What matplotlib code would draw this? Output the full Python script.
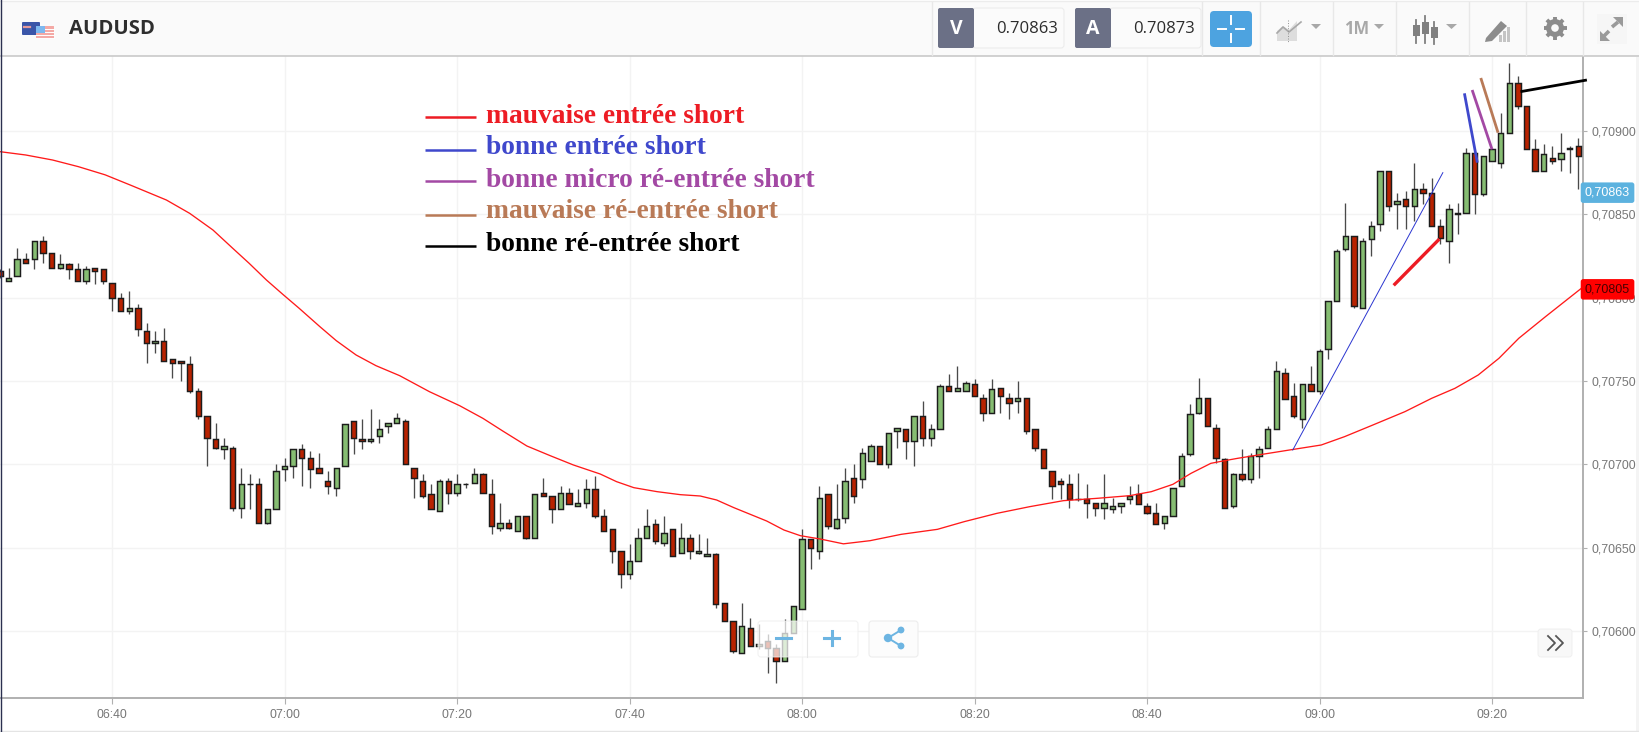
# -*- coding: utf-8 -*-
import matplotlib
matplotlib.use('Agg')
import matplotlib.pyplot as plt
from matplotlib.patches import Rectangle, FancyBboxPatch, Polygon, Circle
from matplotlib.transforms import blended_transform_factory

############################################################################
#                    Chart values                                          #
############################################################################
#Prices are in points above 0.70000, one candle per minute starting at 06:27
Start_Minute = 387

Opens = [
    816, 810, 813, 823, 823, 834, 827, 818, 820, 817,
    810, 818, 817, 809, 800, 792, 794, 780, 773, 774,
    763, 762, 760, 744, 729, 715, 709, 710, 674, 688,
    688, 665, 673, 697, 699, 709, 704, 698, 690, 686,
    699, 726, 715, 714, 717, 723, 725, 726, 698, 690,
    682, 672, 690, 683, 688, 689, 694, 682, 662, 665,
    660, 669, 656, 683, 681, 673, 683, 675, 677, 685,
    669, 661, 648, 634, 642, 656, 664, 653, 661, 647,
    656, 647, 645, 646, 617, 606, 587, 602, 591, 594,
    590, 582, 599, 613, 655, 648, 682, 662, 668, 692,
    691, 702, 711, 700, 720, 721, 714, 729, 716, 721,
    747, 744, 744, 748, 740, 731, 746, 740, 738, 740,
    721, 709, 696, 690, 688, 679, 679, 677, 674, 673,
    675, 679, 682, 675, 671, 665, 669, 687, 706, 731,
    740, 722, 703, 675, 694, 691, 705, 710, 721, 755,
    741, 727, 748, 744, 769, 798, 829, 837, 794, 835,
    844, 876, 856, 859, 855, 865, 863, 843, 834, 850,
    851, 887, 862, 882, 881, 899, 929, 915, 889, 876,
    884, 883, 889, 891]
Highs = [
    817, 818, 830, 827, 834, 837, 827, 826, 821, 821,
    819, 818, 817, 809, 803, 804, 796, 785, 780, 782,
    763, 762, 765, 746, 729, 725, 716, 711, 698, 694,
    692, 673, 700, 704, 709, 712, 708, 707, 696, 698,
    724, 726, 727, 733, 727, 725, 731, 727, 698, 694,
    688, 691, 692, 694, 689, 698, 695, 691, 677, 667,
    669, 669, 682, 692, 681, 687, 686, 685, 691, 693,
    673, 661, 648, 652, 662, 673, 667, 669, 661, 665,
    658, 658, 656, 647, 617, 606, 617, 608, 604, 598,
    592, 607, 615, 661, 655, 687, 682, 688, 698, 700,
    710, 712, 711, 719, 722, 721, 729, 738, 724, 748,
    754, 759, 750, 751, 742, 751, 746, 743, 750, 740,
    721, 709, 696, 692, 694, 695, 688, 677, 694, 680,
    677, 687, 688, 677, 677, 669, 686, 707, 736, 752,
    740, 724, 704, 695, 709, 707, 711, 723, 762, 758,
    749, 748, 759, 769, 798, 829, 857, 837, 836, 846,
    876, 876, 863, 864, 881, 869, 872, 847, 856, 857,
    890, 887, 885, 889, 911, 941, 933, 915, 895, 892,
    891, 899, 891, 896]
Lows = [
    812, 810, 813, 821, 817, 821, 818, 817, 811, 810,
    808, 808, 808, 792, 792, 790, 777, 761, 767, 762,
    752, 750, 743, 727, 699, 709, 703, 672, 668, 673,
    665, 664, 673, 690, 692, 687, 686, 695, 682, 681,
    699, 706, 709, 713, 713, 719, 725, 700, 680, 680,
    673, 672, 676, 681, 686, 689, 683, 658, 660, 661,
    660, 655, 656, 681, 665, 673, 676, 675, 674, 668,
    660, 641, 626, 631, 642, 656, 652, 651, 645, 647,
    643, 646, 645, 614, 606, 587, 587, 591, 589, 575,
    569, 582, 599, 613, 637, 643, 661, 661, 665, 677,
    686, 702, 700, 698, 710, 703, 699, 711, 711, 721,
    744, 744, 744, 741, 726, 731, 731, 727, 731, 718,
    708, 698, 679, 679, 674, 678, 668, 669, 667, 671,
    671, 676, 676, 670, 664, 661, 669, 687, 705, 730,
    723, 701, 674, 674, 690, 689, 692, 710, 721, 739,
    728, 722, 744, 742, 763, 798, 828, 794, 794, 825,
    840, 852, 841, 841, 846, 856, 843, 832, 821, 838,
    851, 850, 861, 882, 878, 899, 913, 889, 876, 876,
    880, 876, 875, 865]
Closes = [
    813, 812, 823, 821, 834, 827, 818, 820, 817, 810,
    817, 816, 810, 800, 792, 794, 781, 773, 774, 762,
    761, 761, 744, 729, 716, 710, 711, 674, 688, 688,
    665, 673, 696, 699, 709, 704, 697, 695, 687, 698,
    724, 716, 714, 715, 721, 725, 728, 700, 692, 681,
    673, 690, 683, 688, 688, 694, 683, 663, 665, 662,
    669, 656, 682, 681, 673, 683, 676, 677, 685, 669,
    660, 648, 634, 642, 656, 663, 654, 659, 645, 656,
    648, 648, 646, 616, 606, 588, 603, 591, 592, 590,
    582, 599, 615, 655, 650, 680, 663, 667, 690, 681,
    707, 711, 700, 719, 722, 714, 729, 716, 721, 747,
    744, 746, 749, 741, 731, 745, 741, 737, 740, 720,
    710, 698, 687, 688, 679, 679, 677, 674, 677, 675,
    677, 681, 676, 671, 664, 669, 686, 705, 730, 740,
    723, 704, 674, 694, 691, 705, 709, 721, 756, 739,
    729, 748, 744, 768, 798, 828, 837, 795, 834, 843,
    876, 855, 858, 855, 865, 863, 843, 836, 853, 851,
    887, 862, 885, 889, 899, 929, 915, 889, 876, 886,
    882, 887, 890, 885]

#Moving average, read at (candle number, price)
MA_Candle = [0, 3, 6.1, 9.1, 12.2, 15.2, 19.3, 22, 24.7, 27, 28.9, 30.9, 32.8, 34.7, 37.1, 39, 41.3,
             43.6, 46.35, 49.8, 53.3, 56, 58.3, 61.1, 63.8, 66.5, 69.6, 71.5, 73.5, 76.2,
             78.9, 81.2, 83.1, 85.1, 88.9, 90.9, 92.8, 95.1, 97.8, 100.9, 104.5, 108.7,
             111.8, 115.6, 119.4, 123.3, 127.2, 131, 133.5, 136, 138.1, 140.4, 142, 143.5,
             146.6, 150, 153.2, 155.9, 159, 162.9, 166, 168.7, 171.4, 173.8, 176.1, 179.2,
             183.7]
MA_Price = [887.6, 885.6, 882.6, 878.6, 873.7, 867.4, 858.6, 850.6, 840.6, 829.6, 820.6, 810.6,
            802.0, 793.6, 782.6, 774.2, 765.6, 759.2, 753.2, 743.6, 735.2, 727.6, 720.0, 711.0,
            705.2, 699.6, 694.2, 689.6, 686.0, 683.6, 681.8, 681.0, 678.6, 674.0, 666.0, 660.6,
            657.2, 655.2, 652.3, 654.2, 658.0, 661.0, 665.6, 670.6, 674.6, 678.2, 679.6, 681.2,
            683.6, 688.0, 694.6, 700.6, 702.2, 703.6, 706.2, 709.0, 711.6, 716.6, 723.2, 731.6,
            739.6, 745.6, 753.6, 763.6, 775.6, 788.6, 807.0]

Y_Ticks = [600, 650, 700, 750, 800, 850, 900]
Y_Labels = ['0,70600', '0,70650', '0,70700', '0,70750', '0,70800', '0,70850', '0,70900']
X_Ticks = [400, 420, 440, 460, 480, 500, 520, 540, 560]
X_Labels = ['06:40', '07:00', '07:20', '07:40', '08:00', '08:20', '08:40', '09:00', '09:20']

#Hand drawn segments (minute, minute), (price, price)
Trend_Thin = ((536.9, 554.3), (708.6, 875.0))
Mark_Red = ((548.6, 553.9), (807.4, 835.2))
Mark_Blue = ((556.8, 558.3), (922.6, 881.0))
Mark_Purple = ((557.7, 560.0), (924.6, 889.0))
Mark_Brown = ((558.7, 560.7), (931.8, 899.0))
Mark_Black = ((563.3, 571.0), (923.6, 930.6))

Bid_Value = 863
Bid_Label = '0,70863'
MA_Last_Value = 805
MA_Last_Label = '0,70805'

Legend_Labels = ['mauvaise entrée short', 'bonne entrée short', 'bonne micro ré-entrée short',
                 'mauvaise ré-entrée short', 'bonne ré-entrée short']
Legend_Colors = ['#ed1c24', '#3f48cc', '#a349a4', '#b97a57', '#000000']
############################################################################

Up_Color = '#86bd72'
Down_Color = '#b82200'
Edge_Color = '#1c1c1c'
Grid_Color = '#f3f3f3'
Axis_Color = '#b0b0b0'
Text_Color = '#777777'

fig = plt.figure(figsize=(16.39, 7.32), dpi=100, facecolor='white')

#Main price axes, sized in pixels of the screenshot
ax = fig.add_axes([0, (732 - 698) / 732, 1583 / 1639, (698 - 56) / 732])
ax.set_xlim(387.01, 570.55)
ax.set_ylim(559.8, 945)
ax.set_facecolor('white')

minutes = [Start_Minute + i for i in range(len(Opens))]
ups = [c >= o for o, c in zip(Opens, Closes)]

ax.vlines(minutes, Lows, Highs, color='#4a4a4a', linewidth=0.95, zorder=2)
ax.bar(minutes,
       [abs(c - o) for o, c in zip(Opens, Closes)],
       bottom=[min(o, c) for o, c in zip(Opens, Closes)],
       width=0.62,
       color=[Up_Color if u else Down_Color for u in ups],
       edgecolor=Edge_Color, linewidth=1.05, zorder=3)

ma_minutes = [Start_Minute + c for c in MA_Candle]
ax.plot(ma_minutes, MA_Price, color='#ff1a1a', linewidth=0.95, zorder=4)

ax.plot(*Trend_Thin, color='#2a35d0', linewidth=0.7, zorder=5)
ax.plot(*Mark_Red, color=Legend_Colors[0], linewidth=2.4, zorder=5, solid_capstyle='butt')
ax.plot(*Mark_Blue, color=Legend_Colors[1], linewidth=2.0, zorder=5, solid_capstyle='butt')
ax.plot(*Mark_Purple, color=Legend_Colors[2], linewidth=2.0, zorder=5, solid_capstyle='butt')
ax.plot(*Mark_Brown, color=Legend_Colors[3], linewidth=2.0, zorder=5, solid_capstyle='butt')
ax.plot(*Mark_Black, color=Legend_Colors[4], linewidth=2.0, zorder=5, solid_capstyle='butt',
        clip_on=False)

ax.set_xticks(X_Ticks)
ax.set_xticklabels(X_Labels)
ax.set_yticks(Y_Ticks)
ax.set_yticklabels(Y_Labels)
ax.yaxis.tick_right()
ax.grid(True, color=Grid_Color, linewidth=1.0)
ax.set_axisbelow(True)
for label in ax.get_xticklabels() + ax.get_yticklabels():
    label.set_fontfamily('Liberation Sans')
    label.set_fontsize(8.9)
    label.set_color(Text_Color)
for label in ax.get_yticklabels():
    label.set_verticalalignment('center_baseline')
ax.tick_params(axis='x', length=4, width=0.8, color=Axis_Color, pad=4)
ax.tick_params(axis='y', length=3, width=0.8, color=Axis_Color, pad=3)
for side in ['top', 'left']:
    ax.spines[side].set_visible(False)
for side in ['right', 'bottom']:
    ax.spines[side].set_color(Axis_Color)
    ax.spines[side].set_linewidth(1.4)

#Last value tags sit on the right axis
tag_transform = blended_transform_factory(ax.transAxes, ax.transData)
ax.text(1.0155, Bid_Value, Bid_Label, transform=tag_transform, ha='center', va='center', clip_on=False,
        family='Liberation Sans', fontsize=9.0, color='white', zorder=6,
        bbox=dict(boxstyle='round,pad=0.34,rounding_size=0.2', facecolor='#5cb2df', edgecolor='none'))
ax.text(1.0155, MA_Last_Value, MA_Last_Label, transform=tag_transform, ha='center', va='center', clip_on=False,
        family='Liberation Sans', fontsize=9.0, color='#4a0000', zorder=6,
        bbox=dict(boxstyle='round,pad=0.34,rounding_size=0.2', facecolor='#ff0000', edgecolor='none'))

#Everything below is page furniture, drawn in screenshot pixels
ui = fig.add_axes([0, 0, 1, 1], facecolor='none', zorder=10)
ui.set_xlim(0, 1639)
ui.set_ylim(732, 0)
ui.axis('off')


def box(x0, y0, x1, y1, color, edge='none', lw=0.0, alpha=None, radius=0.0, z=1):
    if radius > 0:
        patch = FancyBboxPatch((x0 + radius, y0 + radius), x1 - x0 - 2 * radius, y1 - y0 - 2 * radius,
                               boxstyle='round,pad=%f,rounding_size=%f' % (radius, radius),
                               facecolor=color, edgecolor=edge, linewidth=lw, alpha=alpha, zorder=z)
    else:
        patch = Rectangle((x0, y0), x1 - x0, y1 - y0, facecolor=color, edgecolor=edge,
                          linewidth=lw, alpha=alpha, zorder=z)
    ui.add_patch(patch)


#Header bar
box(0, 2, 1639, 56, '#fafafa')
ui.plot([0, 1639], [56, 56], color='#c9c9c9', linewidth=1.2)
ui.plot([0, 1639], [1, 1], color='#ececec', linewidth=1.0)
ui.plot([0.7, 0.7], [0, 732], color='#2b3050', linewidth=1.0, zorder=8)
box(1636, 57, 1639, 732, '#f4f4f4', z=0)
ui.plot([0, 1639], [731, 731], color='#e4e4e4', linewidth=1.0)

#Flags
box(22, 22, 40, 35, '#3a55a8', radius=1)
ui.plot([24, 30], [27, 27], color='#e59a9a', linewidth=1.6, zorder=2)
box(36, 26, 54, 39, '#f4a9a5', radius=0.5, z=2)
for stripe_y in [29, 32, 35, 38]:
    ui.plot([36, 54], [stripe_y, stripe_y], color='white', linewidth=0.7, zorder=3)
box(36, 26, 45, 33, '#7db8ef', z=4)
ui.text(69, 29, 'AUDUSD', family='Open Sans', fontweight='bold', fontsize=14.6, color='#2e2e2e',
        ha='left', va='center')

#Header right hand buttons
for sep_x in [932, 1202, 1260, 1333, 1396, 1469, 1526, 1583]:
    ui.plot([sep_x, sep_x], [2, 55], color='#e8e8e8', linewidth=1.0)
box(973, 8, 1064, 48, '#fbfbfb', edge='#ececec', lw=0.8, radius=3)
box(1110, 8, 1201, 48, '#fbfbfb', edge='#ececec', lw=0.8, radius=3)
box(938, 8, 974, 48, '#6b7086', radius=2, z=2)
box(1075, 8, 1111, 48, '#6b7086', radius=2, z=2)
ui.text(956, 29, 'V', family='Open Sans', fontweight='bold', fontsize=14, color='white', ha='center', va='center', zorder=3)
ui.text(1093, 29, 'A', family='Open Sans', fontweight='bold', fontsize=14, color='white', ha='center', va='center', zorder=3)
ui.text(1058, 29, '0.70863', family='Open Sans', fontsize=12, color='#2c2c2c', ha='right', va='center')
ui.text(1195, 29, '0.70873', family='Open Sans', fontsize=12, color='#2c2c2c', ha='right', va='center')
box(1210, 11, 1252, 47, '#4da3e0', radius=4)
ui.plot([1218, 1226], [29, 29], color='white', linewidth=1.4, zorder=3)
ui.plot([1236, 1244], [29, 29], color='white', linewidth=1.4, zorder=3)
ui.plot([1231, 1231], [16, 24], color='white', linewidth=1.4, zorder=3)
ui.plot([1231, 1231], [34, 42], color='white', linewidth=1.4, zorder=3)

Icon_Gray = '#a8a8a8'
ui.add_patch(Polygon([(1277, 31), (1283, 26), (1289, 30), (1297, 21), (1297, 41), (1277, 41)], facecolor='#dddddd'))
ui.plot([1277, 1283, 1289, 1301], [33, 27, 32, 22], color=Icon_Gray, linewidth=1.2)
ui.plot([1288, 1288], [20, 42], color='#909090', linewidth=0.7, linestyle=':')
ui.add_patch(Polygon([(1311, 24), (1321, 24), (1316, 29)], facecolor=Icon_Gray))
ui.text(1357, 29, '1M', family='Open Sans', fontweight='bold', fontsize=12, color=Icon_Gray, ha='center', va='center')
ui.add_patch(Polygon([(1374, 24), (1384, 24), (1379, 29)], facecolor=Icon_Gray))
for icon_x, y0, y1, y2, y3 in [(1416, 20, 25, 36, 43), (1425, 16, 22, 34, 43), (1434, 22, 27, 38, 44)]:
    ui.plot([icon_x, icon_x], [y0, y3], color='#808080', linewidth=1.3)
    box(icon_x - 3.5, y1, icon_x + 3.5, y2, '#808080')
ui.add_patch(Polygon([(1446, 24), (1457, 24), (1451.5, 29)], facecolor=Icon_Gray))
ui.add_patch(Polygon([(1486, 38), (1501, 21), (1507, 26), (1492, 41), (1485, 42)], facecolor='#8c8c8c'))
for bar_x, bar_top in [(1499, 35), (1503, 31), (1507, 27)]:
    box(bar_x, bar_top, bar_x + 3, 42, '#c4c4c4')

#Gear made of a disc, crossed teeth and a hole
for tooth_x, tooth_y in [(11.5, 0), (8.1, 8.1), (0, 11.5), (-8.1, 8.1)]:
    ui.plot([1555 - tooth_x, 1555 + tooth_x], [28 - tooth_y, 28 + tooth_y], color='#8c8c8c',
            linewidth=2.8, solid_capstyle='butt')
ui.add_patch(Circle((1555, 28), 9, facecolor='#8c8c8c', zorder=3))
ui.add_patch(Circle((1555, 28), 3.8, facecolor='#fafafa', zorder=4))

box(1597, 14, 1627, 44, '#f6f6f6')
ui.plot([1604, 1609], [36, 31], color='#9a9a9a', linewidth=2.6, solid_capstyle='butt')
ui.plot([1612, 1618], [27, 22], color='#9a9a9a', linewidth=2.6, solid_capstyle='butt')
ui.add_patch(Polygon([(1600, 41), (1600, 31), (1610, 41)], facecolor='#9a9a9a', zorder=3))
ui.add_patch(Polygon([(1623, 17), (1613, 17), (1623, 27)], facecolor='#9a9a9a', zorder=3))

#Zoom buttons float over the candles
box(758, 621, 858, 657, 'white', edge='#ededed', lw=0.8, alpha=0.72, radius=3, z=4)
ui.plot([807, 807], [621, 657], color='#e6e6e6', linewidth=0.8, zorder=5)
ui.plot([776, 791], [638, 638], color='#6db5e2', linewidth=2.2, zorder=5)
ui.plot([824, 839], [638, 638], color='#6db5e2', linewidth=2.2, zorder=5)
ui.plot([831.5, 831.5], [631, 645], color='#6db5e2', linewidth=2.2, zorder=5)
box(869, 621, 918, 657, '#fcfcfc', edge='#ededed', lw=0.8, radius=3, z=4)
ui.plot([901, 888, 901], [630, 638, 646], color='#6db5e2', linewidth=1.4, zorder=5)
for share_x, share_y, share_r in [(888, 638, 4.2), (901, 630, 3.4), (901, 646, 3.4)]:
    ui.add_patch(Circle((share_x, share_y), share_r, facecolor='#6db5e2', zorder=6))

#Scroll button
box(1538, 629, 1572, 657, '#f8f8f8', edge='#eeeeee', lw=0.6, radius=3, z=4)
ui.plot([1548, 1555, 1548], [636, 643, 650], color='#555555', linewidth=1.3, zorder=5)
ui.plot([1556, 1563, 1556], [636, 643, 650], color='#555555', linewidth=1.3, zorder=5)

#Pasted legend
legend_line_y = [117, 150, 181, 215, 246]
legend_text_y = [123, 154, 187, 218, 251]
for label, color, line_y, text_y in zip(Legend_Labels, Legend_Colors, legend_line_y, legend_text_y):
    ui.plot([425, 476], [line_y, line_y], color=color, linewidth=1.8, solid_capstyle='butt', zorder=6)
    ui.text(486, text_y, label, family='Liberation Serif', fontweight='bold', fontsize=19.8,
            color=color, ha='left', va='baseline', zorder=6)

fig.savefig('out.png', dpi=100)
plt.close()
